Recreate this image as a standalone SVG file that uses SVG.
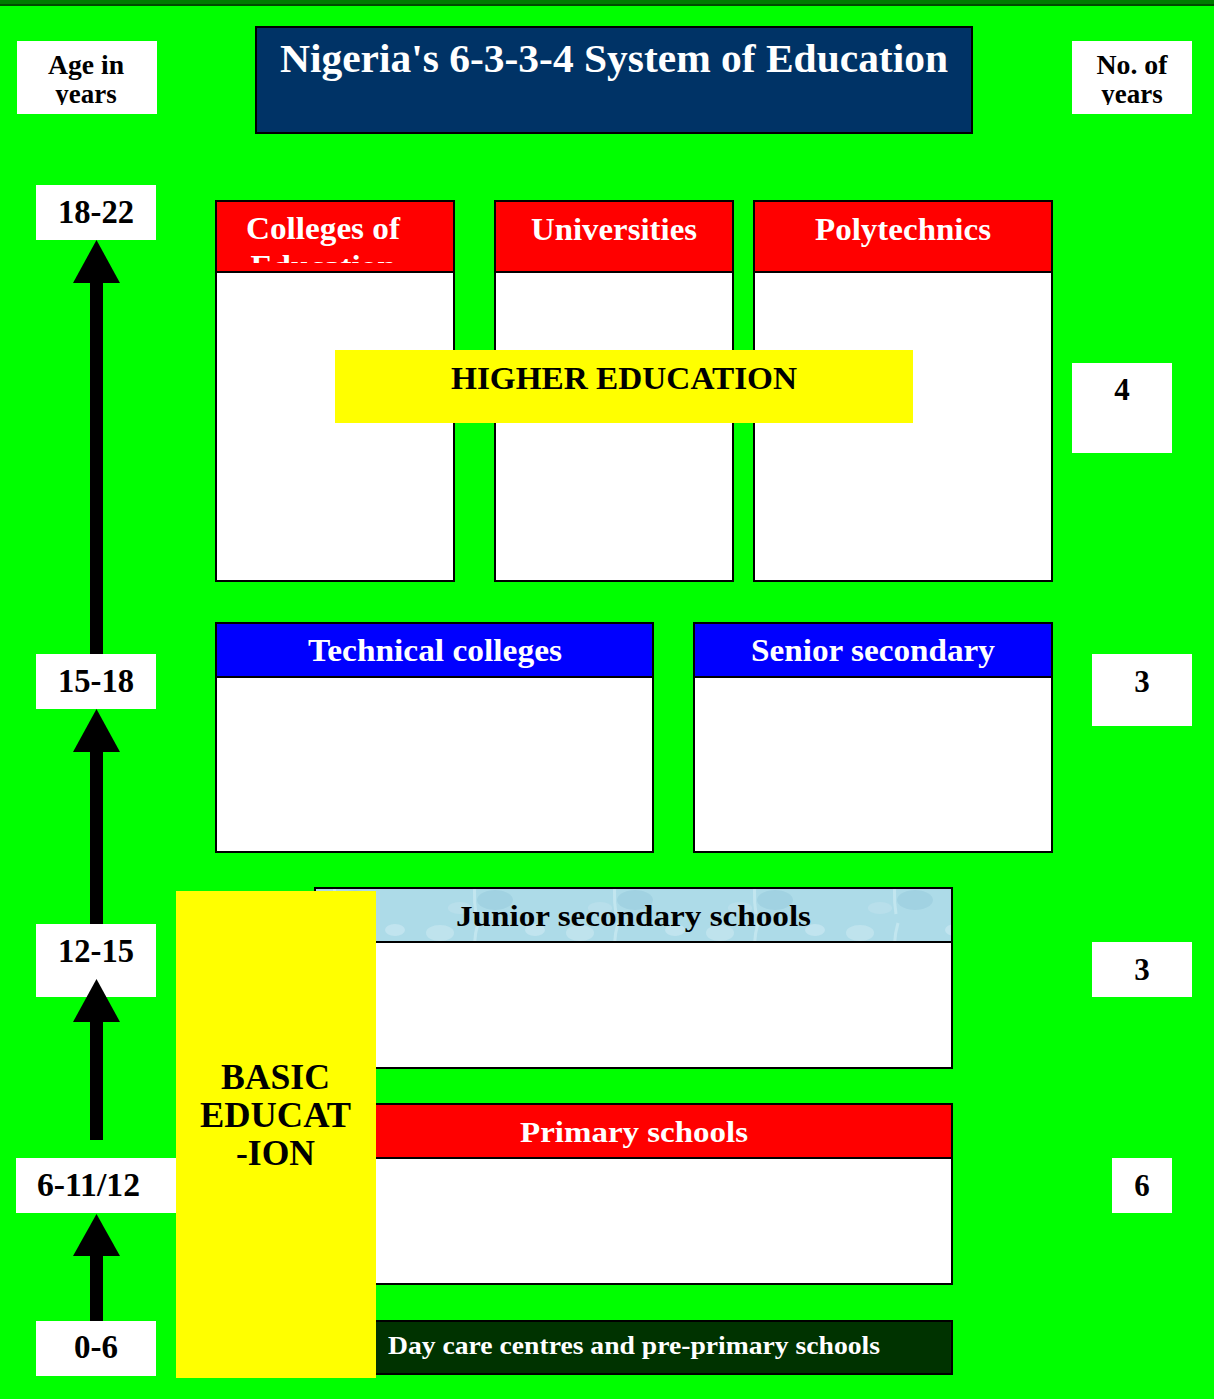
<svg xmlns="http://www.w3.org/2000/svg" width="1214" height="1399" viewBox="0 0 1214 1399">
<style>
text{font-family:"Liberation Serif","Times New Roman",serif;font-weight:bold}
.lbl{fill:#000;text-anchor:middle}
.wt{fill:#fff;text-anchor:middle}
.box{stroke:#000;stroke-width:2}
.wbox{fill:#fff}
.arrow{fill:#000}
</style>
<defs>
<pattern id="water" width="140" height="54" patternUnits="userSpaceOnUse">
<rect width="140" height="54" fill="#addbe8"/>
<ellipse cx="20" cy="15" rx="14" ry="8" fill="#c6e7f0" opacity="0.7"/>
<ellipse cx="75" cy="36" rx="18" ry="10" fill="#95cadb" opacity="0.5"/>
<ellipse cx="115" cy="12" rx="10" ry="6" fill="#cfeaf3" opacity="0.6"/>
<ellipse cx="40" cy="44" rx="12" ry="6" fill="#bfe1ec" opacity="0.6"/>
<path d="M58 5 q-6 20 -2 45" stroke="#d0ecf4" stroke-width="3" fill="none" opacity="0.6"/>
</pattern>
<clipPath id="clipCol"><rect x="217" y="202" width="236" height="61"/></clipPath>
<clipPath id="clipAge"><rect x="17" y="41" width="140" height="64"/></clipPath>
<clipPath id="clipNo"><rect x="1072" y="41" width="120" height="64"/></clipPath>
</defs>
<rect x="0" y="0" width="1214" height="1399" fill="#00ff00"/>
<rect x="0" y="0" width="1214" height="4" fill="#007a00"/>
<rect x="0" y="4" width="1214" height="2" fill="#004a00"/>

<g id="title">
<rect class="box" x="256" y="27" width="716" height="106" fill="#003366"/>
<text class="wt" x="614" y="72" font-size="39" textLength="668" lengthAdjust="spacingAndGlyphs">Nigeria's 6-3-3-4 System of Education</text>
</g>

<g id="age-header">
<rect class="wbox" x="17" y="41" width="140" height="73"/>
<g clip-path="url(#clipAge)">
<text class="lbl" x="86" y="74" font-size="27" textLength="76" lengthAdjust="spacingAndGlyphs">Age in</text>
<text class="lbl" x="86" y="103" font-size="27">years</text>
</g>
</g>

<g id="years-header">
<rect class="wbox" x="1072" y="41" width="120" height="73"/>
<g clip-path="url(#clipNo)">
<text class="lbl" x="1132" y="74" font-size="27" textLength="71" lengthAdjust="spacingAndGlyphs">No. of</text>
<text class="lbl" x="1132" y="103" font-size="27">years</text>
</g>
</g>

<g id="connectors">
<rect class="arrow" x="90" y="282" width="13" height="372"/>
<polygon class="arrow" points="96.5,240 73,283 120,283"/>
<rect class="arrow" x="90" y="750" width="13" height="174"/>
<rect class="arrow" x="90" y="1020" width="13" height="120"/>
<rect class="arrow" x="90" y="1254" width="13" height="67"/>
</g>

<g id="age-18-22">
<rect class="wbox" x="36" y="185" width="120" height="55"/>
<text class="lbl" x="96" y="223" font-size="33" textLength="76" lengthAdjust="spacingAndGlyphs">18-22</text>
</g>
<g id="age-15-18">
<rect class="wbox" x="36" y="654" width="120" height="55"/>
<text class="lbl" x="96" y="692" font-size="33" textLength="76" lengthAdjust="spacingAndGlyphs">15-18</text>
</g>
<polygon class="arrow" points="96.5,709 73,752 120,752"/>
<g id="age-12-15">
<rect class="wbox" x="36" y="924" width="120" height="73"/>
<text class="lbl" x="96" y="962" font-size="33" textLength="76" lengthAdjust="spacingAndGlyphs">12-15</text>
</g>
<polygon class="arrow" points="96.5,979 73,1022 120,1022"/>
<g id="age-6-11">
<rect class="wbox" x="16" y="1158" width="160" height="55"/>
<text class="lbl" x="88.5" y="1196" font-size="33" textLength="103" lengthAdjust="spacingAndGlyphs">6-11/12</text>
</g>
<polygon class="arrow" points="96.5,1214 73,1256 120,1256"/>
<g id="age-0-6">
<rect class="wbox" x="36" y="1321" width="120" height="55"/>
<text class="lbl" x="96" y="1358" font-size="33">0-6</text>
</g>

<g id="colleges">
<rect class="box" x="216" y="272" width="238" height="309" fill="#fff"/>
<rect class="box" x="216" y="201" width="238" height="71" fill="#ff0000"/>
<g clip-path="url(#clipCol)">
<text class="wt" x="323" y="239" font-size="32" textLength="154" lengthAdjust="spacingAndGlyphs">Colleges of</text>
<text class="wt" x="323" y="277" font-size="32" textLength="145" lengthAdjust="spacingAndGlyphs">Education</text>
</g>
</g>
<g id="universities">
<rect class="box" x="495" y="272" width="238" height="309" fill="#fff"/>
<rect class="box" x="495" y="201" width="238" height="71" fill="#ff0000"/>
<text class="wt" x="614" y="240" font-size="32" textLength="166" lengthAdjust="spacingAndGlyphs">Universities</text>
</g>
<g id="polytechnics">
<rect class="box" x="754" y="272" width="298" height="309" fill="#fff"/>
<rect class="box" x="754" y="201" width="298" height="71" fill="#ff0000"/>
<text class="wt" x="903" y="240" font-size="32" textLength="176" lengthAdjust="spacingAndGlyphs">Polytechnics</text>
</g>
<g id="higher-education">
<rect x="335" y="350" width="578" height="73" fill="#ffff00"/>
<text class="lbl" x="624" y="389" font-size="32" textLength="346" lengthAdjust="spacingAndGlyphs">HIGHER EDUCATION</text>
</g>

<g id="technical">
<rect class="box" x="216" y="677" width="437" height="175" fill="#fff"/>
<rect class="box" x="216" y="623" width="437" height="54" fill="#0000ff"/>
<text class="wt" x="435" y="661" font-size="31" textLength="254" lengthAdjust="spacingAndGlyphs">Technical colleges</text>
</g>
<g id="senior">
<rect class="box" x="694" y="677" width="358" height="175" fill="#fff"/>
<rect class="box" x="694" y="623" width="358" height="54" fill="#0000ff"/>
<text class="wt" x="873" y="661" font-size="31" textLength="244" lengthAdjust="spacingAndGlyphs">Senior secondary</text>
</g>

<g id="junior">
<rect class="box" x="315" y="942" width="637" height="126" fill="#fff"/>
<rect class="box" x="315" y="888" width="637" height="54" fill="url(#water)"/>
<text class="lbl" x="633.5" y="926" font-size="30" textLength="355" lengthAdjust="spacingAndGlyphs">Junior secondary schools</text>
</g>

<g id="primary">
<rect class="box" x="360" y="1158" width="592" height="126" fill="#fff"/>
<rect class="box" x="360" y="1104" width="592" height="54" fill="#ff0000"/>
<text class="wt" x="634" y="1142" font-size="30" textLength="228" lengthAdjust="spacingAndGlyphs">Primary schools</text>
</g>

<g id="daycare">
<rect class="box" x="360" y="1321" width="592" height="53" fill="#003300"/>
<text fill="#fff" x="388" y="1354" font-size="25" textLength="492" lengthAdjust="spacingAndGlyphs">Day care centres and pre-primary schools</text>
</g>

<g id="basic-education">
<rect x="176" y="891" width="200" height="487" fill="#ffff00"/>
<text class="lbl" x="275.5" y="1089" font-size="35" textLength="109" lengthAdjust="spacingAndGlyphs">BASIC</text>
<text class="lbl" x="275.5" y="1127" font-size="35" textLength="151" lengthAdjust="spacingAndGlyphs">EDUCAT</text>
<text class="lbl" x="275.5" y="1165" font-size="35" textLength="79" lengthAdjust="spacingAndGlyphs">-ION</text>
</g>

<g id="years-4">
<rect class="wbox" x="1072" y="363" width="100" height="90"/>
<text class="lbl" x="1122" y="400" font-size="31">4</text>
</g>
<g id="years-3a">
<rect class="wbox" x="1092" y="654" width="100" height="72"/>
<text class="lbl" x="1142" y="692" font-size="31">3</text>
</g>
<g id="years-3b">
<rect class="wbox" x="1092" y="942" width="100" height="55"/>
<text class="lbl" x="1142" y="980" font-size="31">3</text>
</g>
<g id="years-6">
<rect class="wbox" x="1112" y="1158" width="60" height="55"/>
<text class="lbl" x="1142" y="1196" font-size="31">6</text>
</g>
</svg>
